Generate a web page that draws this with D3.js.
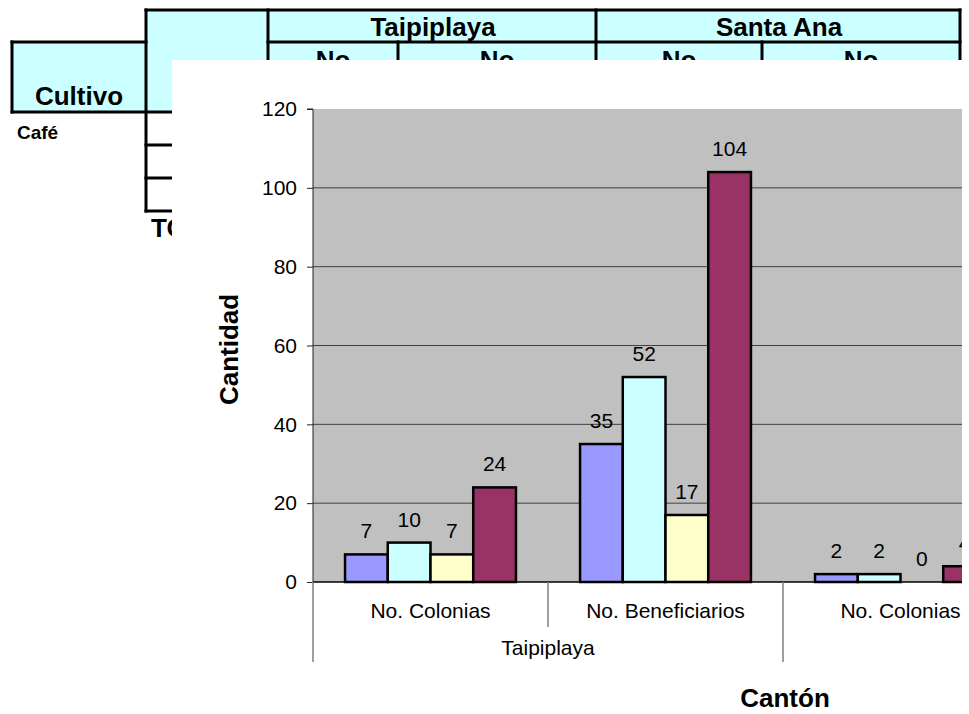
<!DOCTYPE html>
<html><head><meta charset="utf-8">
<script src="https://cdn.jsdelivr.net/npm/d3@7"></script>
<style>body{margin:0;background:#fff}svg{display:block}text{font-family:"Liberation Sans",Arial,sans-serif}</style>
</head><body>
<script>
// ---- data ----
const cantones = ["Taipiplaya", "Santa Ana"];
const subcats = ["No. Colonias", "No. Beneficiarios"];
const categories = ["Taipiplaya|No. Colonias", "Taipiplaya|No. Beneficiarios", "Santa Ana|No. Colonias", "Santa Ana|No. Beneficiarios"];
const series = ["Serie 1", "Serie 2", "Serie 3", "Total"];
const seriesColors = ["#9999FF", "#CCFFFF", "#FFFFCC", "#993366"];
// values per category (Santa Ana / No. Beneficiarios lies outside the visible frame)
const taipiColonias = [7, 10, 7, 24];
const taipiBenef = [35, 52, 17, 104];
const santaColonias = [2, 2, 0, 4];
const yTicks = [0, 20, 40, 60, 80, 100, 120];
const tableHeader = ["Taipiplaya", "Santa Ana"];
const tableSub = ["No", "No", "No", "No"];

const values = [taipiColonias, taipiBenef, santaColonias];

const W = 969, H = 714, VIS = 962;
const svg = d3.select("body").append("svg").attr("width", W).attr("height", H);
svg.append("defs").append("clipPath").attr("id", "vis")
  .append("rect").attr("x", 0).attr("y", 0).attr("width", VIS).attr("height", H);
const root = svg.append("g").attr("clip-path", "url(#vis)");

// ---- background spreadsheet table ----
const tb = root.append("g");
const cyan = "#CCFFFF";
tb.append("rect").attr("x", 12).attr("y", 42).attr("width", 134).attr("height", 70).attr("fill", cyan);
tb.append("rect").attr("x", 146).attr("y", 10).attr("width", 814).attr("height", 102).attr("fill", cyan);
const L = (x1, y1, x2, y2) => tb.append("line").attr("x1", x1).attr("y1", y1).attr("x2", x2).attr("y2", y2)
  .attr("stroke", "#000").attr("stroke-width", 3).attr("stroke-linecap", "square");
L(146, 10, 960, 10);
L(12, 42, 146, 42);
L(268, 42, 960, 42);
L(12, 112, 180, 112);
L(12, 42, 12, 112);
L(146, 10, 146, 211);
L(268, 10, 268, 80);
L(596, 10, 596, 80);
L(960, 10, 960, 80);
L(398, 42, 398, 80);
L(762, 42, 762, 80);
L(146, 145, 180, 145);
L(146, 178, 180, 178);
L(146, 211, 180, 211);
const headerX = [433, 779];
tableHeader.forEach((t, i) => tb.append("text").attr("x", headerX[i]).attr("y", 36).attr("text-anchor", "middle")
  .attr("font-size", 26).attr("font-weight", "bold").text(t));
const subX = [333, 497, 679, 861];
tableSub.forEach((t, i) => tb.append("text").attr("x", subX[i]).attr("y", 69).attr("text-anchor", "middle")
  .attr("font-size", 26).attr("font-weight", "bold").text(t));
tb.append("text").attr("x", 79).attr("y", 105).attr("text-anchor", "middle").attr("font-size", 26).attr("font-weight", "bold").text("Cultivo");
tb.append("text").attr("x", 17).attr("y", 139).attr("font-size", 19).attr("font-weight", "bold").text("Café");
tb.append("text").attr("x", 151).attr("y", 237).attr("font-size", 26).attr("font-weight", "bold").text("TOTAL");

// ---- chart ----
const ch = root.append("g");
ch.append("rect").attr("x", 172).attr("y", 60).attr("width", W).attr("height", H).attr("fill", "#fff");

const plotL = 313, catW = 235;
const x0 = d3.scaleBand().domain(categories).range([plotL, plotL + catW * categories.length]).paddingInner(0).paddingOuter(0);
const x1 = d3.scaleBand().domain(series).range([0, x0.bandwidth()]).paddingInner(0).paddingOuter(0.75);
const y = d3.scaleLinear().domain([0, 120]).range([582, 109]);

ch.append("rect").attr("x", plotL).attr("y", y(120)).attr("width", x0.range()[1] - plotL).attr("height", y(0) - y(120)).attr("fill", "#C0C0C0");
ch.append("g").selectAll("line").data(yTicks.filter(v => v > 0 && v < 120)).join("line")
  .attr("x1", plotL).attr("x2", x0.range()[1]).attr("y1", d => y(d)).attr("y2", d => y(d))
  .attr("stroke", "#404040").attr("stroke-width", 1);

// y axis
const yAxis = d3.axisLeft(y).tickValues(yTicks).tickSize(6).tickPadding(10);
const ya = ch.append("g").attr("transform", `translate(${plotL},0)`).call(yAxis);
ya.select(".domain").attr("stroke", "#222").attr("d", `M-6,${y(120)}H0V${y(0)}`);
ya.selectAll(".tick line").attr("stroke", "#222");
ya.selectAll("text").attr("font-size", 21).attr("font-family", "Liberation Sans, Arial, sans-serif").attr("fill", "#000");

// bars
values.forEach((vals, ci) => {
  const g = ch.append("g").attr("transform", `translate(${x0(categories[ci])},0)`);
  g.selectAll("rect").data(vals.map((v, si) => ({v, si}))).join("rect")
    .filter(d => d.v > 0)
    .attr("x", d => x1(series[d.si])).attr("width", x1.bandwidth())
    .attr("y", d => y(d.v)).attr("height", d => y(0) - y(d.v))
    .attr("fill", d => seriesColors[d.si]).attr("stroke", "#000").attr("stroke-width", 2.5);
  g.selectAll("text").data(vals.map((v, si) => ({v, si}))).join("text")
    .attr("x", d => x1(series[d.si]) + x1.bandwidth() / 2).attr("y", d => y(d.v) - 16)
    .attr("text-anchor", "middle").attr("font-size", 21).text(d => d.v);
});

// category axis
ch.append("line").attr("x1", plotL).attr("x2", x0.range()[1]).attr("y1", y(0)).attr("y2", y(0)).attr("stroke", "#000").attr("stroke-width", 1.5);
const bounds = categories.map(c => x0(c)).concat([x0.range()[1]]);
bounds.forEach((b, i) => {
  const major = i % 2 === 0;
  ch.append("line").attr("x1", b).attr("x2", b).attr("y1", y(0)).attr("y2", major ? 662 : 627)
    .attr("stroke", "#808080").attr("stroke-width", 1.5);
});
// labels only where they fall inside the visible frame
categories.filter(c => x0(c) + x0.bandwidth() / 2 < VIS).forEach(c => {
  ch.append("text").attr("x", x0(c) + x0.bandwidth() / 2).attr("y", 618).attr("text-anchor", "middle")
    .attr("font-size", 21).text(c.split("|")[1]);
});
cantones.forEach((k, i) => {
  const a = x0(categories[i * 2]), b = x0(categories[i * 2 + 1]) + x0.bandwidth();
  if ((a + b) / 2 > VIS) return;
  ch.append("text").attr("x", (a + b) / 2).attr("y", 655).attr("text-anchor", "middle").attr("font-size", 21).text(k);
});

// axis titles
ch.append("text").attr("transform", `translate(238,${(y(0) + y(120)) / 2 + 4}) rotate(-90)`).attr("text-anchor", "middle")
  .attr("font-size", 26).attr("font-weight", "bold").text("Cantidad");
ch.append("text").attr("x", (plotL + x0.range()[1]) / 2 + 2).attr("y", 707).attr("text-anchor", "middle")
  .attr("font-size", 26).attr("font-weight", "bold").text("Cantón");
</script>
</body></html>
